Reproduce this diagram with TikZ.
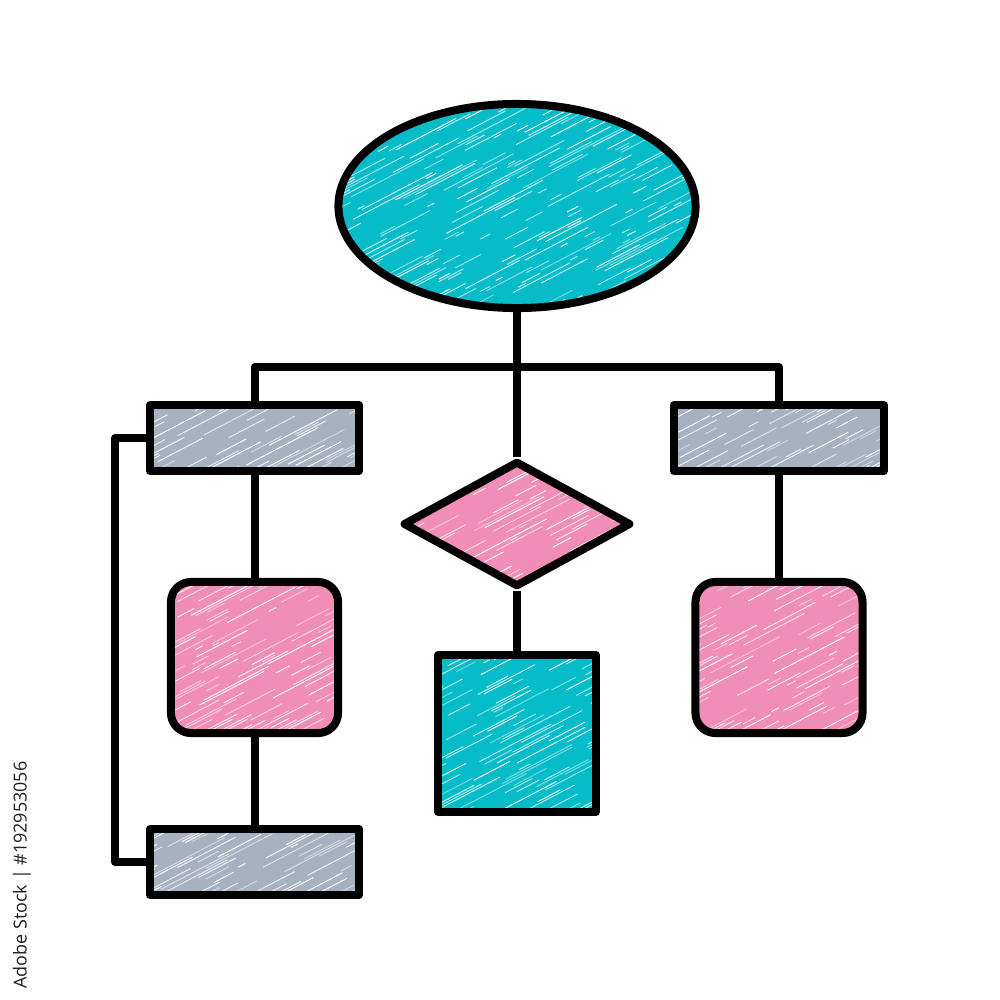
\documentclass[tikz,border=0pt]{standalone}
\usepackage{fontspec}
\newfontfamily\wmfont{Open Sans}
\usetikzlibrary{shapes.geometric,calc}
\definecolor{tealfill}{RGB}{6,188,200}
\definecolor{pinkfill}{RGB}{240,142,184}
\definecolor{grayfill}{RGB}{168,177,192}
\newcommand{\hatchlines}{%
  \foreach \s in {-430,-425,...,370}{%
    \pgfmathsetmacro{\da}{2+rnd*22}%
    \pgfmathsetmacro{\db}{12+rnd*55}%
    \pgfmathsetmacro{\ph}{rnd*80}%
    \pgfmathsetmacro{\op}{0.4+rnd*0.6}%
    \draw[white, line width=0.28pt, opacity=\op, dash pattern=on \da pt off \db pt, dash phase=\ph pt]
      ($(path picture bounding box.south west)+(\s,0)$) -- +(440,-230);
  }}
\tikzset{
  shp/.style={draw=black, line width=0.08cm, inner sep=0pt, line join=round, path picture={\hatchlines}},
  conn/.style={draw=black, line width=0.08cm, line join=round},
  bar/.style={shp, rectangle, fill=grayfill, minimum width=2.09cm, minimum height=0.66cm},
  rsq/.style={shp, rectangle, rounded corners=0.2cm, fill=pinkfill, minimum width=1.67cm, minimum height=1.51cm},
}
\begin{document}
\begin{tikzpicture}[x=0.01cm, y=-0.01cm]
\pgfmathsetseed{42}
\useasboundingbox[fill=white] (0,0) rectangle (1000,1000);

\node[shp, ellipse, fill=tealfill, minimum width=3.57cm, minimum height=2.04cm] (ell) at (517,206) {};
\node[shp, diamond, fill=pinkfill, minimum width=2.28cm, minimum height=1.26cm] (dia) at (517,524) {};
\node[bar] (lt) at (254.5,438) {};
\node[bar, minimum width=2.10cm] (rt) at (779,438) {};
\node[bar] (lb) at (254.5,862) {};
\node[rsq] (lsq) at (254.5,657.5) {};
\node[rsq] (rsq) at (779,657.5) {};
\node[shp, rectangle, fill=tealfill, minimum width=1.58cm, minimum height=1.57cm] (csq) at (517,733.5) {};

\coordinate (j) at (517,367);
\coordinate (bl) at (115,650);
\draw[conn] (ell.south) -- (dia.north);
\draw[conn] (lt.north) |- (j) -| (rt.north);
\draw[conn] (lt.south) -- (lsq.north);
\draw[conn] (lsq.south) -- (lb.north);
\draw[conn] (rt.south) -- (rsq.north);
\draw[conn] (dia.south) -- (csq.north);
\draw[conn] (lt.west) -| (bl) |- (lb.west);

\node[rotate=90, text=black!88, font=\wmfont\fontsize{5.1pt}{6pt}\selectfont, inner sep=0pt] (wm) at (22,875) {Adobe Stock | \#192953056};
\end{tikzpicture}
\end{document}
